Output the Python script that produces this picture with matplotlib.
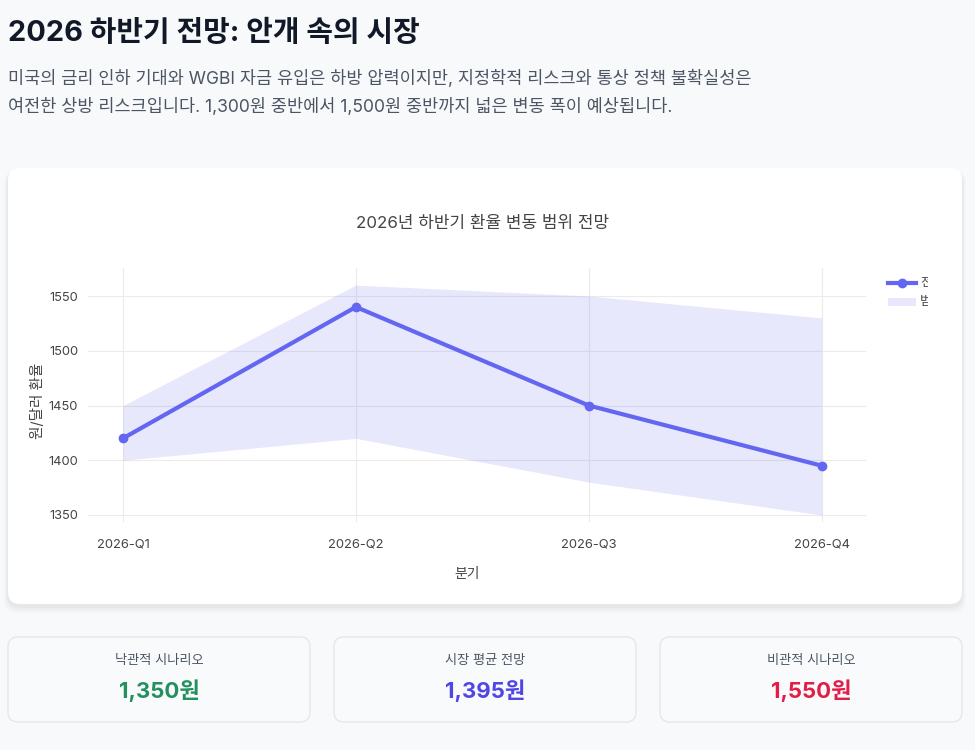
import matplotlib.pyplot as plt
from matplotlib.patches import FancyBboxPatch, Rectangle
from matplotlib.transforms import Bbox

# data
quarters = ['2026-Q1', '2026-Q2', '2026-Q3', '2026-Q4']
forecast = [1420, 1540, 1450, 1395]
upper = [1450, 1560, 1550, 1530]
lower = [1400, 1420, 1380, 1350]
card_labels = ['낙관적 시나리오', '시장 평균 전망', '비관적 시나리오']
card_values = ['1,350원', '1,395원', '1,550원']
card_colors = ['#23915f', '#4f46e5', '#e11d48']

FONT = ['Inter', 'Noto Sans CJK KR', 'DejaVu Sans']
plt.rcParams['font.family'] = FONT

W, H = 975, 750
fig = plt.figure(figsize=(W / 100, H / 100), dpi=100)
fig.patch.set_facecolor('#f8f9fb')

bg = fig.add_axes([0, 0, 1, 1])
bg.set_xlim(0, W)
bg.set_ylim(H, 0)
bg.axis('off')

# header
bg.text(8, 33, '2026 하반기 전망: 안개 속의 시장', fontsize=20.8, fontweight='bold',
        color='#111827', va='center', ha='left')
bg.text(8, 79, '미국의 금리 인하 기대와 WGBI 자금 유입은 하방 압력이지만, 지정학적 리스크와 통상 정책 불확실성은',
        fontsize=12.6, color='#4b5563', va='center', ha='left')
bg.text(8, 107, '여전한 상방 리스크입니다. 1,300원 중반에서 1,500원 중반까지 넓은 변동 폭이 예상됩니다.',
        fontsize=12.6, color='#4b5563', va='center', ha='left')

# main card with soft shadow
for i, a in enumerate([0.025, 0.02, 0.015, 0.01]):
    d = 2 + i * 2
    bg.add_patch(FancyBboxPatch((8 - d / 2, 168 + 2), 954 + d, 436 + d,
                                boxstyle='round,pad=0,rounding_size=14',
                                facecolor='#000000', edgecolor='none', alpha=a))
bg.add_patch(FancyBboxPatch((8, 168), 954, 436, boxstyle='round,pad=0,rounding_size=12',
                            facecolor='white', edgecolor='none'))

bg.text(483, 223, '2026년 하반기 환율 변동 범위 전망', fontsize=12.2, color='#444444',
        ha='center', va='center')
bg.text(467, 574, '분기', fontsize=10, color='#444444', ha='center', va='center')
bg.text(38, 401, '원/달러 환율', fontsize=10.5, color='#444444', ha='center', va='center',
        rotation=90)

# legend (text cut at the card edge like the original)
bg.plot([888, 916], [283, 283], color='#6366f1', lw=3)
bg.plot([902], [283], 'o', color='#6366f1', ms=6)
bg.add_patch(Rectangle((888, 298), 28, 8, facecolor='#e8e7fc', edgecolor='none'))
for y, lab in [(283, '전망'), (302, '범위')]:
    t = bg.text(920, y, lab, fontsize=9, color='#444444', ha='left', va='center')
    t.set_clip_box(Bbox([[0, 0], [928, H]]))
    t.set_clip_on(True)

# bottom cards
for i in range(3):
    x0 = 8 + i * 326
    bg.add_patch(FancyBboxPatch((x0, 637), 302, 85, boxstyle='round,pad=0,rounding_size=10',
                                facecolor='#f9fafb', edgecolor='#e5e7eb', lw=1))
    cx = x0 + 151
    bg.text(cx, 661, card_labels[i], fontsize=9.5, color='#4b5563', ha='center', va='center')
    bg.text(cx, 691, card_values[i], fontsize=16, fontweight='bold', color=card_colors[i],
            ha='center', va='center')

# plot area
ax = fig.add_axes([88 / W, 1 - 522 / H, (866 - 88) / W, (522 - 268) / H])
ax.set_facecolor('white')
x = range(len(quarters))
ax.fill_between(x, lower, upper, color='#6366f1', alpha=0.15, lw=0)
ax.plot(x, forecast, color='#6366f1', lw=3, marker='o', ms=6, zorder=3)
ax.set_xlim(-0.15, 3.19)
ax.set_ylim(1343.6, 1575.6)
ax.set_xticks(list(x))
ax.set_xticklabels(quarters)
ax.set_yticks([1350, 1400, 1450, 1500, 1550])
ax.tick_params(length=0, labelsize=9.3, labelcolor='#444444')
ax.tick_params(axis='x', pad=12)
ax.tick_params(axis='y', pad=7)
ax.grid(True, color='#ebebeb', lw=0.8)
ax.set_axisbelow(True)
for s in ax.spines.values():
    s.set_visible(False)

fig.savefig('out.png', dpi=100, facecolor=fig.get_facecolor())
